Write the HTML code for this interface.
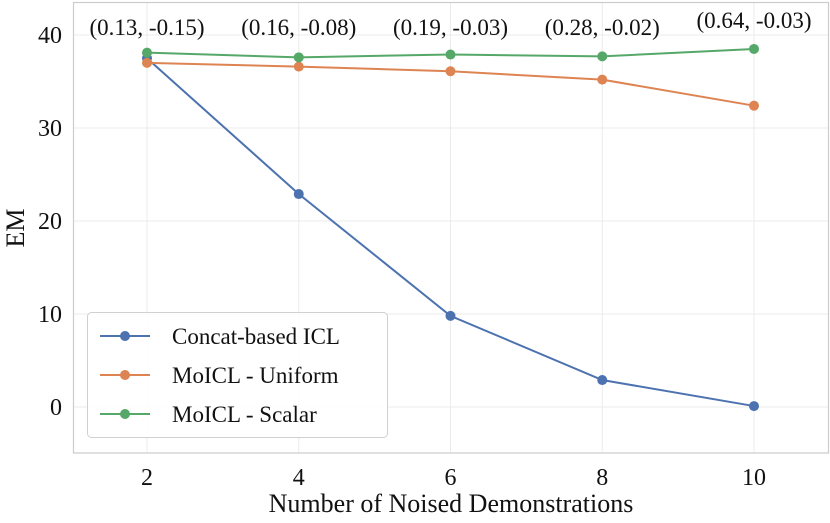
<!DOCTYPE html>
<html><head><meta charset="utf-8"><style>
body{margin:0;background:#fff}
svg text{font-family:"Liberation Serif",serif;fill:#111}
</style></head><body>
<svg id="chart" width="830" height="518" xmlns="http://www.w3.org/2000/svg"></svg>
<script>
const xValues=[2,4,6,8,10];
const concatEM=[37.5,22.9,9.8,2.9,0.1];
const uniformEM=[37.0,36.6,36.1,35.2,32.4];
const scalarEM=[38.1,37.6,37.9,37.7,38.5];
const yTicks=[0,10,20,30,40];
const annotations=["(0.13, -0.15)","(0.16, -0.08)","(0.19, -0.03)","(0.28, -0.02)","(0.64, -0.03)"];
const NS="http://www.w3.org/2000/svg";
const svg=document.getElementById('chart');
function X(v){return 147+(v-2)*(754-147)/8;}
function Y(v){return 407-v*(407-35)/40;}
function mk(t,a,p){const e=document.createElementNS(NS,t);for(const k in a)e.setAttribute(k,a[k]);(p||svg).appendChild(e);return e;}
let g=mk('g',{});


xValues.forEach(v=>{mk('line',{x1:X(v),x2:X(v),y1:2,y2:453,stroke:'#ebebeb','stroke-width':1},g);});
yTicks.forEach(v=>{mk('line',{x1:73,x2:829,y1:Y(v),y2:Y(v),stroke:'#ebebeb','stroke-width':1},g);});
let fr=mk('rect',{x:73.5,y:2.5,width:755,height:450.5,fill:'none',stroke:'#cccccc','stroke-width':1.2});


yTicks.forEach(v=>{const t=mk('text',{x:62,y:Y(v)+8,'text-anchor':'end','font-size':24});t.textContent=v;

});
xValues.forEach(v=>{const t=mk('text',{x:X(v),y:485,'text-anchor':'middle','font-size':24});t.textContent=v;

});
let xt=mk('text',{x:451,y:512,'text-anchor':'middle','font-size':26});xt.textContent='Number of Noised Demonstrations';


let yt=mk('text',{x:0,y:0,'text-anchor':'middle','font-size':26,transform:'translate(24,228) rotate(-90)'});yt.textContent='EM';


function series(vals,color,name){const sg=mk('g',{});


mk('polyline',{points:vals.map((v,i)=>X(xValues[i])+','+Y(v)).join(' '),fill:'none',stroke:color,'stroke-width':2},sg);
vals.forEach((v,i)=>{const c=mk('circle',{cx:X(xValues[i]),cy:Y(v),r:5,fill:color},sg);

});}
series(concatEM,'#4c72b0','concat-series');
series(uniformEM,'#dd8452','uniform-series');
series(scalarEM,'#55a868','scalar-series');
annotations.forEach((s,i)=>{const t=mk('text',{x:X(xValues[i]),y:i==4?28:35,'text-anchor':'middle','font-size':23});t.textContent=s;

});
let lg=mk('g',{});


mk('rect',{x:87.5,y:312.5,width:300,height:125,rx:4,fill:'#fff','fill-opacity':0.85,stroke:'#d0d0d0'},lg);
[['Concat-based ICL','#4c72b0'],['MoICL - Uniform','#dd8452'],['MoICL - Scalar','#55a868']].forEach((d,i)=>{
const yy=336+i*39;
const e=mk('g',{},lg);


mk('line',{x1:100,x2:150,y1:yy,y2:yy,stroke:d[1],'stroke-width':2},e);
mk('circle',{cx:125,cy:yy,r:5,fill:d[1]},e);
const t=mk('text',{x:172,y:yy+8,'font-size':23},e);t.textContent=d[0];});
</script>
</body></html>
